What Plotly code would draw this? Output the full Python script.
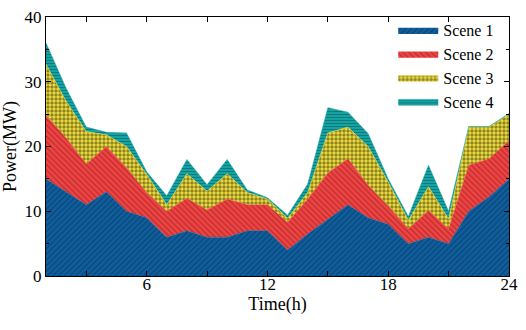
import plotly.graph_objects as go

hours = list(range(1, 25))
scene1 = [15, 13, 11, 13, 10, 9, 6, 7, 6, 6, 7, 7, 4, 6.5, 8.7, 11, 9, 8, 5, 6, 5, 10, 12.2, 15]
scene2 = [9.8, 8.3, 6.3, 7, 6.7, 3.9, 4, 5, 4.2, 5.9, 4, 4, 4.3, 5.4, 7.2, 7.1, 5, 2.8, 2.3, 4.1, 2.3, 7.1, 5.9, 5.9]
scene3 = [7.9, 5.7, 5, 1.8, 3.3, 2.8, 1, 3.8, 2.9, 3.9, 1.9, 0.9, 0.6, 1, 6.2, 4.9, 6, 3.7, 1.3, 3.7, 1.5, 5.9, 4.9, 4.1]
scene4 = [3.3, 2, 0.7, 0.4, 2.1, 0.4, 1.4, 2.2, 1, 2.2, 0.4, 0.2, 0.5, 1.3, 3.9, 2.3, 2, 0.5, 0.6, 3.3, 1.2, 0.1, 0.1, 0.1]

names = ["Scene 1", "Scene 2", "Scene 3", "Scene 4"]
series = [scene1, scene2, scene3, scene4]
bg = ["#0f5f9e", "#f04444", "#f2e23c", "#13a3a3"]
fg = ["#0a2e52", "#8a1a1a", "#2a2410", "#0b4f55"]
shapes = ["/", "\\", ".", "-"]
sizes = [4, 4, 4, 3]
solid = [0.35, 0.35, 0.6, 0.35]

FONT = "Liberation Serif, Times New Roman, serif"

fig = go.Figure()
for n, s, b, f, sh, sz, so in zip(names, series, bg, fg, shapes, sizes, solid):
    fig.add_trace(go.Scatter(
        x=hours, y=s, name=n, mode="lines", stackgroup="one",
        line=dict(width=0.5, color=b),
        fillcolor=b,
        fillpattern=dict(shape=sh, fgcolor=f, bgcolor=b, size=sz, solidity=so, fillmode="overlay"),
    ))

axis_common = dict(
    showline=True, linecolor="black", linewidth=1, mirror="ticks",
    ticks="inside", ticklen=5, tickcolor="black", showgrid=False, zeroline=False,
    tickfont=dict(family=FONT, size=17, color="black"),
)

fig.update_layout(
    width=526, height=330,
    margin=dict(l=44, r=10, t=8, b=54),
    paper_bgcolor="white", plot_bgcolor="white",
    font=dict(family=FONT, size=16, color="black"),
    xaxis=dict(range=[1, 24], tickvals=[6, 12, 18, 24], ticklabelstandoff=-7,
               minor=dict(tickvals=[3, 9, 15, 21], ticks="inside", ticklen=5, tickcolor="black"),
               title=dict(text="Time(h)", font=dict(family=FONT, size=18), standoff=0),
               **axis_common),
    yaxis=dict(range=[0, 40], tickvals=[0, 10, 20, 30, 40],
               minor=dict(tickvals=[5, 15, 25, 35], ticks="inside", ticklen=3, tickcolor="black"),
               title=dict(text="Power(MW)", font=dict(family=FONT, size=18), standoff=4),
               **axis_common),
    legend=dict(x=0.75, y=1.015, xanchor="left", yanchor="top",
                bgcolor="rgba(0,0,0,0)", font=dict(family=FONT, size=16),
                traceorder="normal", tracegroupgap=0, itemwidth=40),
)

fig.write_html(
    "out.html",
    config={"displayModeBar": False},
    post_script="document.body.style.margin='0';document.body.style.overflow='hidden';",
)
